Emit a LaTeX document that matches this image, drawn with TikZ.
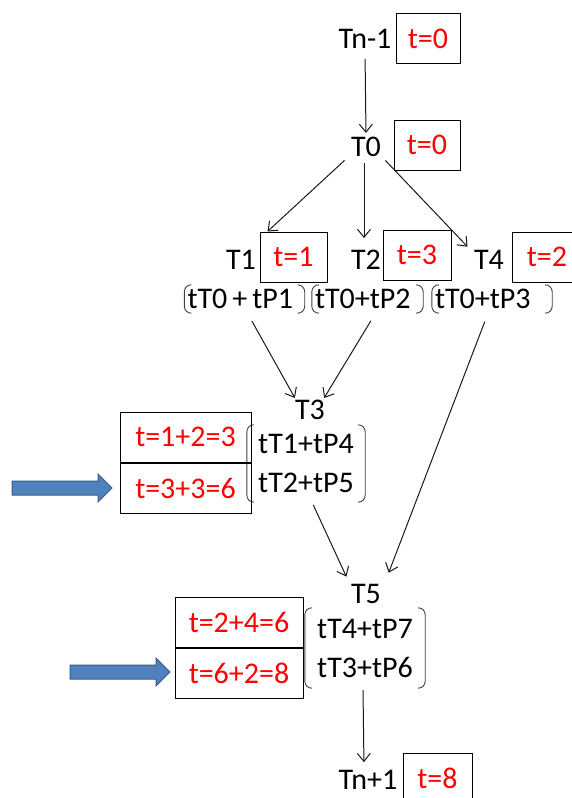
\documentclass[tikz,border=0pt]{standalone}
\usepackage{fontspec}
\setmainfont{Carlito}
\usetikzlibrary{arrows.meta}
\definecolor{boxred}{RGB}{255,0,0}
\definecolor{arrowblue}{RGB}{79,129,189}
\definecolor{arrowedge}{RGB}{56,93,138}
% round brackets around a node
\newcommand{\parens}[1]{%
  \draw[brkline] ([xshift=7pt]#1.north west) -- (#1.north west) -- (#1.south west) -- ([xshift=7pt]#1.south west);
  \draw[brkline] ([xshift=-7pt]#1.north east) -- (#1.north east) -- (#1.south east) -- ([xshift=-7pt]#1.south east);}
% blue block arrow, tip at #1
\newcommand{\blockarrow}[1]{%
  \filldraw[fill=arrowblue, draw=arrowedge, line width=1pt] (#1) -- ++(-14,-14) -- ++(0,7) -- ++(-86,0) -- ++(0,14) -- ++(86,0) -- ++(0,7) -- cycle;}

\begin{document}
\begin{tikzpicture}[x=1pt, y=-1pt, >={Straight Barb[length=8pt,width=13pt]},
    every node/.style={font=\fontsize{30}{39}\selectfont, inner sep=2pt},
    tbox/.style={draw, line width=1pt, text=boxred, minimum height=50pt},
    brk/.style={inner xsep=5pt, inner ysep=1pt, align=center},
    sum/.style={inner xsep=3pt, inner ysep=1pt, minimum height=28pt, align=left},
    brkline/.style={line width=0.9pt, rounded corners=7pt, draw=black!75},
    flow/.style={->, line width=1pt, draw=black!90}]

    \useasboundingbox (0,0) rectangle (571,798);

    % Tasks and their start times
    \node (tn1) at (365,39) {Tn-1};
    \node[tbox, minimum width=64pt] (btn1) at (428,38.5) {t=0};
    \node (t0) at (366,147) {T0};
    \node[tbox, minimum width=66pt] (bt0) at (427,145) {t=0};

    \node (t1) at (241,260) {T1};
    \node[tbox, minimum width=67pt] (bt1) at (293.5,257) {t=1};
    \node (t2) at (366,260) {T2};
    \node[tbox, minimum width=68pt] (bt2) at (417,255) {t=3};
    \node (t4) at (489,260) {T4};
    \node[tbox, minimum width=70pt] (bt4) at (547,257) {t=2};

    % Sums below T1, T2, T4
    \node[sum, text width=114pt] (p1) at (244.5,299) {tT0\hspace{5pt}+\hspace{5pt}tP1};
    \node[sum, text width=105pt] (p2) at (367.5,299) {tT0+tP2};
    \node[sum, text width=114pt] (p3) at (492,299) {tT0+tP3};
    \parens{p1}
    \parens{p2}
    \parens{p3}

    % T3
    \node (t3) at (310,410) {T3};
    \node[brk, minimum width=118pt, minimum height=77pt] (q3) at (306,463.5) {tT1+tP4\\tT2+tP5};
    \parens{q3}
    \node[tbox, minimum width=131pt] (bt3a) at (185.5,437) {t=1+2=3};
    \node[tbox, minimum width=131pt, anchor=north] (bt3b) at (bt3a.south) {t=3+3=6};
    \blockarrow{112,488}

    % T5
    \node (t5) at (366,594) {T5};
    \node[brk, minimum width=120pt, minimum height=80pt] (q5) at (365,648) {tT4+tP7\\tT3+tP6};
    \parens{q5}
    \node[tbox, minimum width=128pt] (bt5a) at (239,622.5) {t=2+4=6};
    \node[tbox, minimum width=128pt, anchor=north] (bt5b) at (bt5a.south) {t=6+2=8};
    \blockarrow{170,672}

    % Last task
    \node (tn2) at (368,780) {Tn+1};
    \node[tbox, minimum width=69pt] (btn2) at (437.5,778) {t=8};

    % Connectors
    \draw[flow, shorten <=8pt, shorten >=2pt] (tn1.south) -- (t0.north);
    \draw[flow, shorten <=2pt] ([xshift=-20pt]t0.south) -- ([xshift=8pt]bt1.north west);
    \draw[flow, shorten <=4pt, shorten >=10pt] ([xshift=-2pt]t0.south) -- ([xshift=-2pt]t2.north);
    \draw[flow, shorten <=2pt, shorten >=2pt] ([xshift=18pt]t0.south) -- ([xshift=-3pt]t4.north west);
    \draw[flow, shorten <=9pt] ([xshift=3pt]p1.south) -- ([xshift=2pt]t3.north west);
    \draw[flow, shorten <=9pt] ([xshift=8pt]p2.south) -- ([xshift=-3pt]t3.north east);
    \draw[flow, shorten <=9pt, shorten >=10pt] ([xshift=-4pt]p3.south) -- ([xshift=2pt]t5.north east);
    \draw[flow, shorten <=3pt, shorten >=6pt] ([xshift=6pt]q3.south) -- (t5.north west);
    \draw[flow, shorten <=2pt, shorten >=6pt] ([xshift=-2pt]q5.south) -- ([xshift=-4pt]tn2.north);
\end{tikzpicture}
\end{document}
